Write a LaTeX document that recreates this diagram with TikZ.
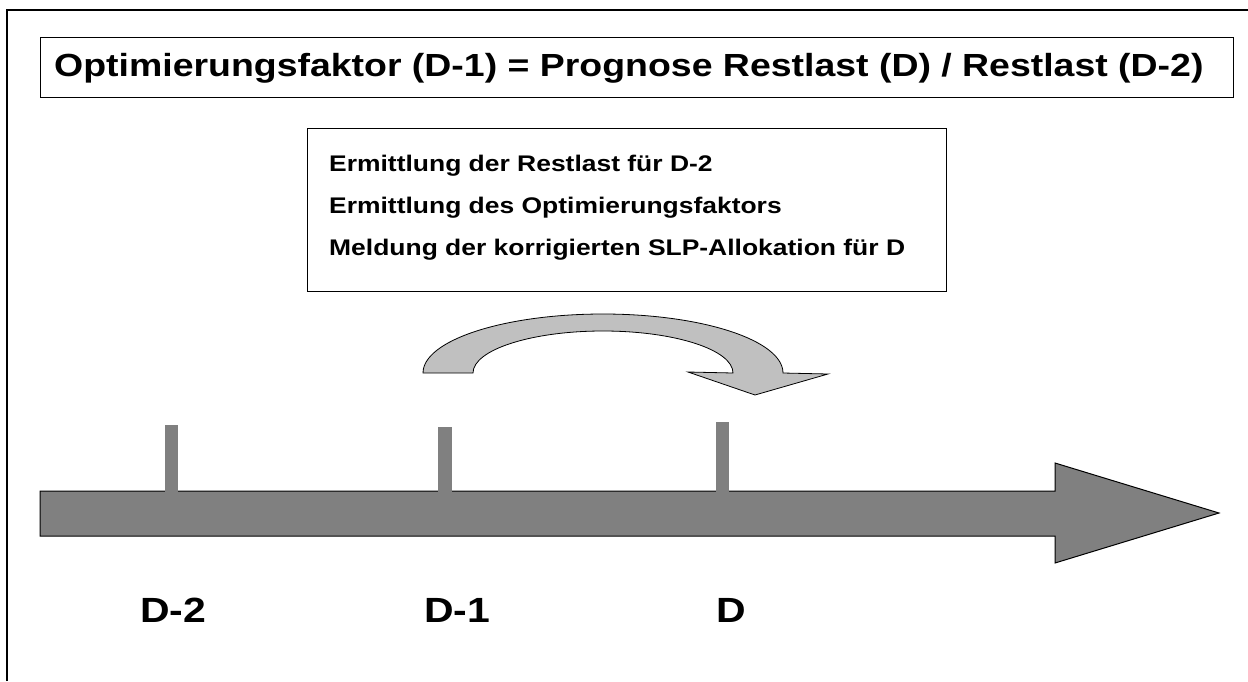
\documentclass[tikz,border=0pt]{standalone}
\usepackage{fontspec}
\newfontfamily\arialx[FakeStretch=1.17]{Liberation Sans}
\definecolor{shaftgray}{HTML}{808080}
\definecolor{arcgray}{HTML}{C0C0C0}
\tikzset{
  boxframe/.style={draw=black, line width=1pt, fill=white, inner sep=0pt, anchor=north west},
  titletext/.style={anchor=base west, inner sep=0pt, font=\arialx\bfseries\fontsize{32}{38}\selectfont},
  infotext/.style={anchor=base west, inner sep=0pt, font=\arialx\bfseries\fontsize{22.6}{27}\selectfont},
  daylabel/.style={anchor=base west, inner sep=0pt, font=\arialx\bfseries\fontsize{35}{42}\selectfont},
  tick/.style={fill=shaftgray},
}
\begin{document}
\begin{tikzpicture}[x=1pt,y=-1pt]
\useasboundingbox (0,0) rectangle (1248,681);
% outer frame
\draw[line width=2pt] (7,681) -- (7,10) -- (1248,10);
% title
\node[boxframe, minimum width=1193pt, minimum height=60pt] (titlebox) at (40,37) {};
\node[titletext] (title) at (54,76) {Optimierungsfaktor (D-1) = Prognose Restlast (D) / Restlast (D-2)};
% info box
\node[boxframe, minimum width=639pt, minimum height=163pt] (infobox) at (307,128) {};
\node[infotext] (l1) at (329,171) {Ermittlung der Restlast für D-2};
\node[infotext] (l2) at (329,213) {Ermittlung des Optimierungsfaktors};
\node[infotext] (l3) at (329,255) {Meldung der korrigierten SLP-Allokation für D};
% curved arrow
\filldraw[fill=arcgray, draw=black, line width=0.8pt, line join=miter]
  (423,373) arc[start angle=180, end angle=360, x radius=180, y radius=59]
  -- (828,374) -- (755,395) -- (688,372) -- (733,373)
  arc[start angle=0, end angle=-180, x radius=130, y radius=42]
  -- cycle;
% time axis arrow
\filldraw[fill=shaftgray, draw=black, line width=1pt, line join=miter]
  (40,491) -- (1055,491) -- (1055,463) -- (1219,513) -- (1055,563) -- (1055,536) -- (40,536) -- cycle;
% ticks
\fill[tick] (165,425) rectangle (178,492.5);
\fill[tick] (438,427) rectangle (452,492.5);
\fill[tick] (716,422) rectangle (729,492.5);
% labels
\node[daylabel] (d2) at (140,622) {D-2};
\node[daylabel] (d1) at (424,622) {D-1};
\node[daylabel] (d0) at (716,622) {D};
\end{tikzpicture}
\end{document}
